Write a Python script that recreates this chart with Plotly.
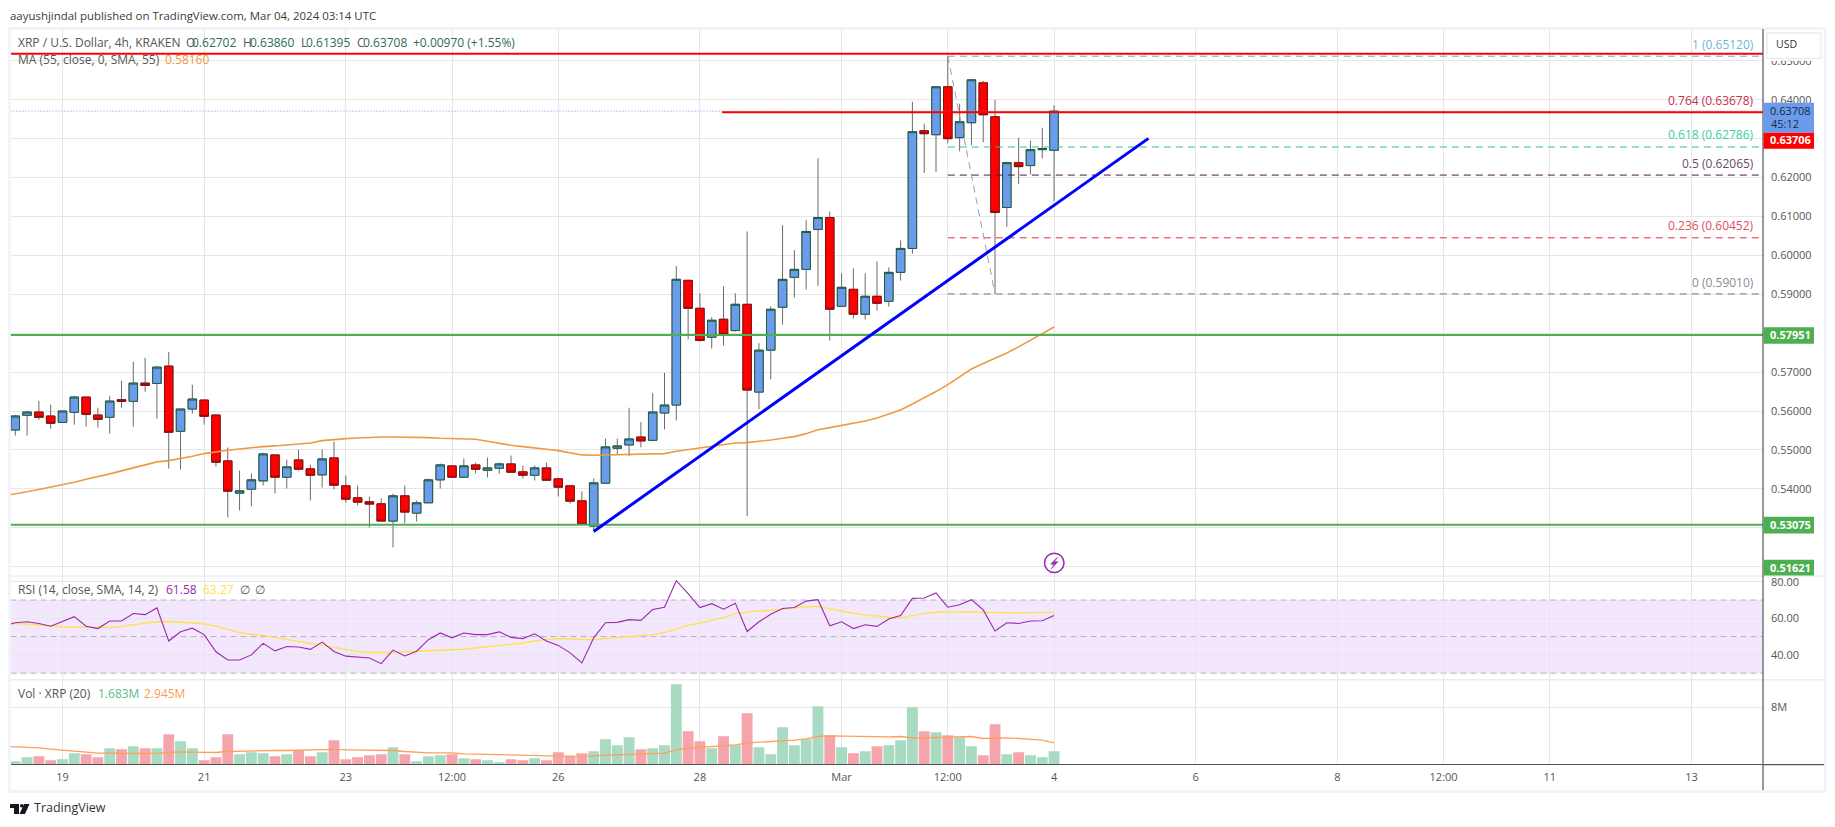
import numpy as np
import pandas as pd
import plotly.graph_objects as go

W, H = 1835, 827
FONT = "Open Sans"

# ---- data ----
opens = [.55513,.55889,.55974,.55872,.55709,.55966,.56359,.55897,.55838,.56291,
         .56248,.56718,.56709,.57154,.55479,.56051,.56282,.55897,.54718,.53889,
         .53991,.54205,.54872,.54299,.54744,.54513,.54359,.54795,.54077,.53769,
         .53667,.53615,.53171,.53820,.53376,.53641,.54231,.54590,.54299,.54615,
         .54479,.54530,.54641,.54436,.54350,.54538,.54256,.54077,.53692,.53043,
         .54145,.55043,.55128,.55333,.55248,.55949,.56154,.59359,.58641,.57897,
         .58359,.58068,.58743,.56487,.57564,.58667,.59436,.59641,.60667,.60974,
         .58692,.59128,.58487,.58949,.58820,.59564,.60179,.63205,.63102,.64333,
         .63026,.63410,.64436,.63564,.61231,.62384,.62308,.62718,.62702]
highs = [.55906,.56008,.56265,.56162,.56000,.56393,.56359,.56085,.56393,.56778,
         .57265,.57367,.57162,.57521,.56051,.56675,.56282,.55897,.55060,.54470,
         .54393,.54932,.54872,.54752,.55009,.54624,.55009,.55214,.54342,.54085,
         .53803,.53752,.53880,.54085,.53701,.54265,.54650,.54590,.54778,.54675,
         .54803,.54675,.54855,.54598,.54598,.54675,.54291,.54077,.53932,.54265,
         .55291,.55291,.56085,.55718,.56461,.56983,.59726,.59359,.59026,.58410,
         .59205,.59026,.60615,.57744,.58692,.60778,.60137,.60906,.62496,.61128,
         .59538,.59667,.59538,.59846,.59692,.60384,.63949,.63385,.64333,.65120,
         .63897,.64538,.64487,.64000,.62410,.63026,.62949,.63282,.63860]
lows = [.55367,.55367,.55778,.55547,.55709,.55650,.55598,.55573,.55419,.56085,
        .55598,.56496,.55803,.54521,.54496,.55932,.55650,.54573,.53265,.53444,
        .53547,.54085,.53880,.54009,.54470,.53701,.54034,.53983,.53650,.53573,
        .53009,.53171,.52496,.53111,.53162,.53641,.54009,.54299,.54299,.54393,
        .54291,.54393,.54427,.54265,.54214,.54222,.53803,.53624,.53094,.52932,
        .54145,.54880,.54838,.55068,.55222,.55530,.55761,.57838,.57786,.57607,
        .57684,.58043,.53299,.56043,.56812,.58222,.58914,.59120,.59214,.57812,
        .58692,.58376,.58350,.58581,.58684,.59350,.60043,.62120,.62145,.62880,
        .62675,.62829,.62906,.59010,.60735,.61829,.62077,.62496,.61395]
closes = [.55872,.55974,.55838,.55684,.56000,.56359,.55914,.55786,.56256,.56248,
          .56718,.56658,.57128,.55453,.56051,.56308,.55863,.54684,.53940,.53949,
          .54231,.54897,.54299,.54564,.54504,.54350,.54769,.54094,.53735,.53658,
          .53607,.53171,.53820,.53402,.53641,.54231,.54615,.54299,.54590,.54504,
          .54538,.54641,.54427,.54350,.54538,.54222,.54043,.53684,.53094,.54154,
          .55077,.55103,.55282,.55231,.55974,.56154,.59385,.58641,.57812,.58333,
          .57966,.58743,.56538,.57564,.58615,.59384,.59641,.60615,.60974,.58615,
          .59179,.58487,.58949,.58769,.59564,.60179,.63179,.63128,.64333,.63000,
          .63436,.64513,.63615,.61102,.62384,.62282,.62718,.62744,.63708]

ma55 = [.53820,.53863,.53923,.53983,.54043,.54111,.54171,.54248,.54308,.54385,
        .54462,.54538,.54615,.54692,.54726,.54778,.54838,.54906,.54957,.54991,
        .55026,.55060,.55085,.55103,.55128,.55154,.55179,.55239,.55273,.55291,
        .55308,.55325,.55333,.55333,.55333,.55325,.55316,.55299,.55291,.55291,
        .55273,.55222,.55162,.55120,.55085,.55060,.55017,.54983,.54932,.54872,
        .54863,.54870,.54870,.54880,.54889,.54897,.54906,.54966,.55009,.55043,
        .55077,.55137,.55179,.55188,.55214,.55256,.55299,.55342,.55419,.55521,
        .55573,.55624,.55675,.55744,.55820,.55914,.56025,.5618,.5633,.5650,
        .5668,.5688,.5708,.5722,.5735,.5749,.5765,.5782,.5800,.58160]

volumes = [.468,1.029,1.170,.608,.749,1.591,1.450,1.029,2.292,2.152,
           2.573,2.292,2.292,4.257,3.275,2.292,.608,1.029,4.257,1.450,
           1.731,1.591,1.170,1.450,2.012,1.170,1.731,3.415,.749,1.029,
           1.310,1.450,2.433,1.450,.468,1.170,1.310,1.450,.889,.749,
           .608,.327,.749,.608,.889,.608,1.731,1.170,1.591,1.871,
           3.556,2.713,3.836,2.152,2.292,2.713,11.275,4.678,3.275,2.292,
           3.977,2.713,7.205,2.433,1.450,5.240,2.713,3.556,8.187,4.117,
           2.433,1.591,1.871,2.573,2.713,3.415,8.047,4.678,4.538,4.117,
           3.836,2.573,1.310,5.661,1.450,1.731,1.310,1.029,1.871]

vol_ma = [2.53,2.48,2.43,2.34,2.15,2.01,1.78,1.64,1.59,1.59,
          1.54,1.54,1.54,1.59,1.73,1.78,1.73,1.68,1.68,1.82,
          1.87,1.92,1.92,1.96,1.96,2.01,2.01,2.06,2.11,2.06,
          2.06,1.96,1.96,1.96,1.82,1.68,1.64,1.64,1.64,1.50,
          1.45,1.40,1.36,1.31,1.26,1.26,1.22,1.17,1.17,1.17,
          1.22,1.31,1.36,1.45,1.50,1.54,1.59,2.06,2.29,2.39,
          2.48,2.62,2.76,3.04,3.13,3.23,3.37,3.42,3.60,3.93,
          4.02,3.98,3.93,3.88,3.88,3.88,3.93,3.74,3.74,3.79,
          3.88,3.93,3.93,3.65,3.74,3.74,3.65,3.56,3.42,3.05]

rsi = [55.7,57.6,58.1,57.2,55.7,58.1,60.9,55.7,54.4,58.5,
       58.5,62.6,62.0,65.7,47.6,52.6,54.6,51.1,41.7,37.2,
       37.2,40.0,46.3,42.2,44.6,44.3,43.0,47.0,41.9,39.3,
       38.7,38.3,35.2,42.6,39.4,42.0,48.3,52.0,49.3,52.0,
       51.1,51.1,52.6,49.6,48.9,51.5,47.6,45.2,41.1,35.6,
       49.3,57.6,57.8,59.3,58.9,64.8,66.1,80.6,73.5,65.9,
       68.0,65.0,68.3,52.8,58.1,62.2,65.4,65.9,69.4,70.2,
       55.9,58.1,54.4,56.5,55.6,59.6,61.5,70.9,71.1,73.9,
       66.1,67.4,70.2,64.6,53.1,57.6,57.2,58.5,58.7,61.58]

rsi_ma = [58.1,57.2,56.9,56.3,55.6,55.4,55.2,55.0,54.8,55.0,
          55.6,56.3,57.2,58.1,58.3,58.0,57.6,57.0,55.7,53.9,
          52.2,51.3,50.7,49.6,48.5,47.2,45.9,44.8,43.9,42.8,
          41.9,41.3,41.1,41.3,41.7,41.9,42.0,42.4,42.8,43.1,
          43.7,44.3,45.0,45.7,46.5,47.6,48.5,48.9,48.7,48.3,
          48.3,48.9,49.4,50.0,50.2,51.1,52.2,54.3,56.3,57.4,
          58.9,60.4,62.6,63.5,64.1,64.3,64.8,65.7,66.3,66.5,
          65.2,63.9,62.8,61.9,61.1,60.6,60.4,61.7,62.6,63.3,
          63.5,63.5,63.5,63.3,63.1,63.0,63.0,63.1,63.3,63.27]

x_tick_times = ["2024-02-19","2024-02-21","2024-02-23","2024-02-24 12:00","2024-02-26",
                "2024-02-28","2024-03-01","2024-03-02 12:00","2024-03-04","2024-03-06",
                "2024-03-08","2024-03-09 12:00","2024-03-11","2024-03-13"]
x_tick_labels = ["19","21","23","12:00","26","28","Mar","12:00","4","6","8","12:00","11","13"]
price_ticks = [.52,.53,.54,.55,.56,.57,.58,.59,.60,.61,.62,.63,.64,.65]
price_hidden_ticks = [.52,.53,.58,.63]

fib_levels = [1, .764, .618, .5, .236, 0]
fib_prices = [.65120, .63678, .62786, .62065, .60452, .59010]
fib_colors = ["#5fb3e4", "#e0203c", "#2ec594", "#4a1a48", "#e8303c", "#787b86"]
fib_text_colors = ["#6ab7dd", "#c9304a", "#3ccf9a", "#6d4a68", "#e0505a", "#8a8d96"]
fib_label_y = [43.7, 100, 134.7, 163.7, 225.7, 282.7]

# ---- helpers ----
times = pd.date_range("2024-02-18 08:00", periods=len(opens), freq="4h")
line_times = pd.date_range("2024-02-18 04:00", periods=len(rsi), freq="4h")

def py(px):
    return 1 - px / H

def px_x(px):
    return px / W

o, h, l, c = map(np.array, (opens, highs, lows, closes))
UP_FILL, UP_EDGE = "#6a9ceb", "#1f5c40"
DN_FILL, DN_EDGE = "#ff0000", "#8a0f0f"
WICK = "#6b6b6b"
GRID = "#e6e6e8"
TXT = "#555555"

fig = go.Figure()

# wicks
fig.add_trace(go.Candlestick(
    x=times, open=o, high=h, low=l, close=c, whiskerwidth=0,
    increasing=dict(line=dict(color=WICK, width=1), fillcolor=UP_FILL),
    decreasing=dict(line=dict(color=WICK, width=1), fillcolor=DN_FILL),
    xaxis="x", yaxis="y", showlegend=False))
# bodies with their own outline
fig.add_trace(go.Candlestick(
    x=times, open=o, high=np.maximum(o, c), low=np.minimum(o, c), close=c, whiskerwidth=0,
    increasing=dict(line=dict(color=UP_EDGE, width=1), fillcolor=UP_FILL),
    decreasing=dict(line=dict(color=DN_EDGE, width=1), fillcolor=DN_FILL),
    xaxis="x", yaxis="y", showlegend=False))
fig.add_trace(go.Scatter(x=line_times, y=ma55, mode="lines",
                         line=dict(color="#ee9a44", width=1.6),
                         xaxis="x", yaxis="y", showlegend=False))

fig.add_trace(go.Scatter(x=line_times, y=rsi_ma, mode="lines",
                         line=dict(color="#fde34a", width=1.4),
                         xaxis="x2", yaxis="y2", showlegend=False))
fig.add_trace(go.Scatter(x=line_times, y=rsi, mode="lines",
                         line=dict(color="#9c27b0", width=1.1),
                         xaxis="x2", yaxis="y2", showlegend=False))

vol_colors = ["#a9dbc2" if b >= a else "#f5a6ac" for a, b in zip(opens, closes)]
fig.add_trace(go.Bar(x=times, y=volumes, marker=dict(color=vol_colors, line=dict(width=0)),
                     width=4 * 3600 * 1000 * 0.92, xaxis="x3", yaxis="y3", showlegend=False))
fig.add_trace(go.Scatter(x=line_times, y=vol_ma, mode="lines",
                         line=dict(color="#ff9f5e", width=1.3),
                         xaxis="x3", yaxis="y3", showlegend=False))

shapes = []

def hline(y, x0, x1, color, width, dash="solid", xref="x", yref="y", layer="above"):
    shapes.append(dict(type="line", xref=xref, yref=yref, x0=x0, x1=x1, y0=y, y1=y,
                       line=dict(color=color, width=width, dash=dash), layer=layer))

X_START, X_END = "2024-02-18 06:23", "2024-03-14 00:14"

# RSI band and levels
shapes.append(dict(type="rect", xref="x2", yref="y2", x0=X_START, x1=X_END, y0=30, y1=70,
                   fillcolor="rgba(150,40,235,0.11)", line=dict(width=0), layer="below"))
for lvl in (70, 50, 30):
    hline(lvl, X_START, X_END, "#b8b0bd", 1, "6px,4px", "x2", "y2", "below")

# drawings on the price pane
hline(.63708, X_START, X_END, "#6a9ceb", 1, "1px,2px")
hline(.57951, X_START, X_END, "#4caf50", 2)
hline(.53075, X_START, X_END, "#4caf50", 2)
hline(.6518, X_START, X_END, "#ff0000", 2)
for price, col in zip(fib_prices, fib_colors):
    hline(price, "2024-03-02 12:00", X_END, col, 1, "7px,5px")
hline(.6368, "2024-02-28 07:30", X_END, "#ff0000", 2)
shapes.append(dict(type="line", xref="x", yref="y", x0="2024-03-02 12:00", x1="2024-03-03 04:00",
                   y0=.65120, y1=.59010, line=dict(color="#9e9e9e", width=1, dash="7px,5px"), layer="above"))
shapes.append(dict(type="line", xref="x", yref="y", x0="2024-02-26 12:00", x1="2024-03-05 08:00",
                   y0=.52905, y1=.63008, line=dict(color="#0000ff", width=3), layer="above"))


def pxrect(x0, y0, x1, y1, fill, line=None, lw=0):
    shapes.append(dict(type="rect", xref="paper", yref="paper", x0=px_x(x0), x1=px_x(x1),
                       y0=py(y0), y1=py(y1), fillcolor=fill,
                       line=dict(color=line or fill, width=lw), layer="above"))


def pxline(x0, y0, x1, y1, color, width):
    shapes.append(dict(type="line", xref="paper", yref="paper", x0=px_x(x0), x1=px_x(x1),
                       y0=py(y0), y1=py(y1), line=dict(color=color, width=width), layer="above"))


# the top of the scale is hidden behind the currency button area
pxrect(1764, 28, 1824, 59, "white")

# page frame
FRAME = "#f0f3fa"
pxline(8, 26.5, 1826, 26.5, FRAME, 3)
pxline(8, 791.5, 1826, 791.5, FRAME, 3)
pxline(9.5, 25, 9.5, 793, FRAME, 2.5)
pxline(1825, 25, 1825, 793, FRAME, 2.5)
# pane separators
pxline(10, 575.5, 1824, 575.5, "#e4e6ee", 1)
pxline(10, 679.5, 1824, 679.5, "#e4e6ee", 1)
# axes
pxline(1763, 27, 1763, 790, "#555555", 1.2)
pxline(1763, 764.5, 1824, 764.5, "#555555", 1.2)

# price labels on the scale
pxrect(1763.5, 101, 1814, 131, "#6a9ceb")
pxrect(1763.5, 131, 1814, 147, "#ff0000")
pxrect(1763.5, 326, 1814, 342.7, "#4caf50")
pxrect(1763.5, 516, 1814, 532.7, "#4caf50")
pxrect(1763.5, 559, 1814, 575, "#4caf50")
# USD button
shapes.append(dict(type="rect", xref="paper", yref="paper", x0=px_x(1767), x1=px_x(1821),
                   y0=py(31), y1=py(56.5), fillcolor="white",
                   line=dict(color="#e4e6ee", width=1), layer="above"))

# alert icon
shapes.append(dict(type="circle", xref="paper", yref="paper", x0=px_x(1044.5), x1=px_x(1064),
                   y0=py(552.5), y1=py(572), fillcolor="white",
                   line=dict(color="#9c27b0", width=1.5), layer="above"))
bolt = [(1057.5, 556.5), (1050.5, 563.5), (1054, 563.5), (1051, 568.5), (1058, 561), (1054.5, 561)]
shapes.append(dict(type="path", xref="paper", yref="paper",
                   path="M " + " L ".join(f"{px_x(a):.5f},{py(b):.5f}" for a, b in bolt) + " Z",
                   fillcolor="#9c27b0", line=dict(color="#9c27b0", width=0.5), layer="above"))

# TradingView logo
pxrect(10, 804, 19, 808, "#131722")
pxrect(14, 804, 19, 814, "#131722")
shapes.append(dict(type="circle", xref="paper", yref="paper", x0=px_x(20), x1=px_x(23.5),
                   y0=py(804), y1=py(807.5), fillcolor="#131722", line=dict(width=0), layer="above"))
logo = [(24, 804), (29.5, 804), (25, 814), (19.5, 814)]
shapes.append(dict(type="path", xref="paper", yref="paper",
                   path="M " + " L ".join(f"{px_x(a):.5f},{py(b):.5f}" for a, b in logo) + " Z",
                   fillcolor="#131722", line=dict(width=0), layer="above"))

ann = []

def note(x, y, text, color=TXT, size=11, anchor="left", weight=None):
    font = dict(family=FONT, size=size, color=color)
    if weight:
        font["weight"] = weight
    ann.append(dict(xref="paper", yref="paper", x=px_x(x), y=py(y - 1.5), text=text, showarrow=False,
                    xanchor=anchor, yanchor="middle", borderpad=0, borderwidth=0, font=font))


GREEN_TXT = "#2f6b52"
note(10, 14.7, "aayushjindal published on TradingView.com, Mar 04, 2024 03:14 UTC", "#3a3a3a", 11.45)
note(18, 41.7, "XRP / U.S. Dollar, 4h, KRAKEN", TXT, 12)
for xl, letter, xv, value in [(186, "O", 192, "0.62702"), (243.5, "H", 250, "0.63860"),
                              (301, "L", 306, "0.61395"), (356.5, "C", 363, "0.63708")]:
    note(xl, 41.7, letter, TXT, 12)
    note(xv, 41.7, value, GREEN_TXT, 12)
note(413, 41.7, "+0.00970 (+1.55%)", GREEN_TXT, 12)
note(18, 58.7, "MA (55, close, 0, SMA, 55)", TXT, 12)
note(165, 58.7, "0.58160", "#f0983c", 12)
note(18, 590.7, "RSI (14, close, SMA, 14, 2)", TXT, 12)
note(166, 590.7, "61.58", "#9c27b0", 12)
note(202.5, 590.7, "63.27", "#fde34a", 12)
note(240, 590.7, "∅", TXT, 12)
note(255, 590.7, "∅", TXT, 12)
note(18, 695, "Vol · XRP (20)", TXT, 12)
note(98, 695, "1.683M", "#5cb98a", 12)
note(143.5, 695, "2.945M", "#ff9a4f", 12)
for lvl, price, col, yy in zip(fib_levels, fib_prices, fib_text_colors, fib_label_y):
    note(1754, yy, f"{lvl} ({price:.5f})", col, 12, "right")
note(1776, 44, "USD", "#333333", 10.5)
note(1770, 110.5, "0.63708", "#1c2a3a", 11)
note(1771, 123, "45:12", "#1c2a3a", 11)
note(1770, 139.2, "0.63706", "white", 11, weight="bold")
note(1770, 335, "0.57951", "white", 11, weight="bold")
note(1770, 525, "0.53075", "white", 11, weight="bold")
note(1770, 568, "0.51621", "white", 11, weight="bold")
note(33.5, 809, "TradingView", "#333333", 12.5)

x_common = dict(type="date", range=[X_START, X_END], domain=[px_x(10.5), px_x(1763)],
                tickmode="array", tickvals=x_tick_times, ticktext=x_tick_labels,
                showgrid=True, gridcolor=GRID, gridwidth=1, zeroline=False,
                rangeslider=dict(visible=False))
y_common = dict(side="right", showgrid=True, gridcolor=GRID, gridwidth=1, zeroline=False,
                ticks="", ticklabelstandoff=7, tickmode="array",
                tickfont=dict(family=FONT, size=11, color=TXT), showline=False)

fig.update_layout(
    width=W, height=H, margin=dict(l=0, r=0, t=0, b=0, pad=0),
    paper_bgcolor="white", plot_bgcolor="white", showlegend=False, hovermode=False,
    bargap=0.08, boxgap=0.2, boxgroupgap=0.1, font=dict(family=FONT, color=TXT),
    xaxis=dict(x_common, anchor="y", showticklabels=False),
    xaxis2=dict(x_common, anchor="y2", matches="x", showticklabels=False),
    xaxis3=dict(x_common, anchor="y3", matches="x", showticklabels=True, ticks="",
                ticklabelstandoff=2, tickangle=0,
                tickfont=dict(family=FONT, size=11, color=TXT),
                showline=True, linecolor="#555555", linewidth=1.2),
    yaxis=dict(y_common, anchor="x", domain=[py(575.3), py(27.5)], range=[.51762, .65808],
               tickvals=price_ticks,
               ticktext=["" if t in price_hidden_ticks else f"{t:.5f}" for t in price_ticks]),
    yaxis2=dict(y_common, anchor="x2", domain=[py(679.3), py(575.3)], range=[26.45, 83.2],
                tickvals=[40, 60, 80], ticktext=["40.00", "60.00", "80.00"]),
    yaxis3=dict(y_common, anchor="x3", domain=[py(764.3), py(679.3)], range=[0, 11.93],
                tickvals=[8], ticktext=["8M"]),
    shapes=shapes, annotations=ann,
)

fig.write_html("out.html", post_script="document.body.style.margin='0';document.body.style.overflow='hidden';",
               config=dict(displayModeBar=False))
